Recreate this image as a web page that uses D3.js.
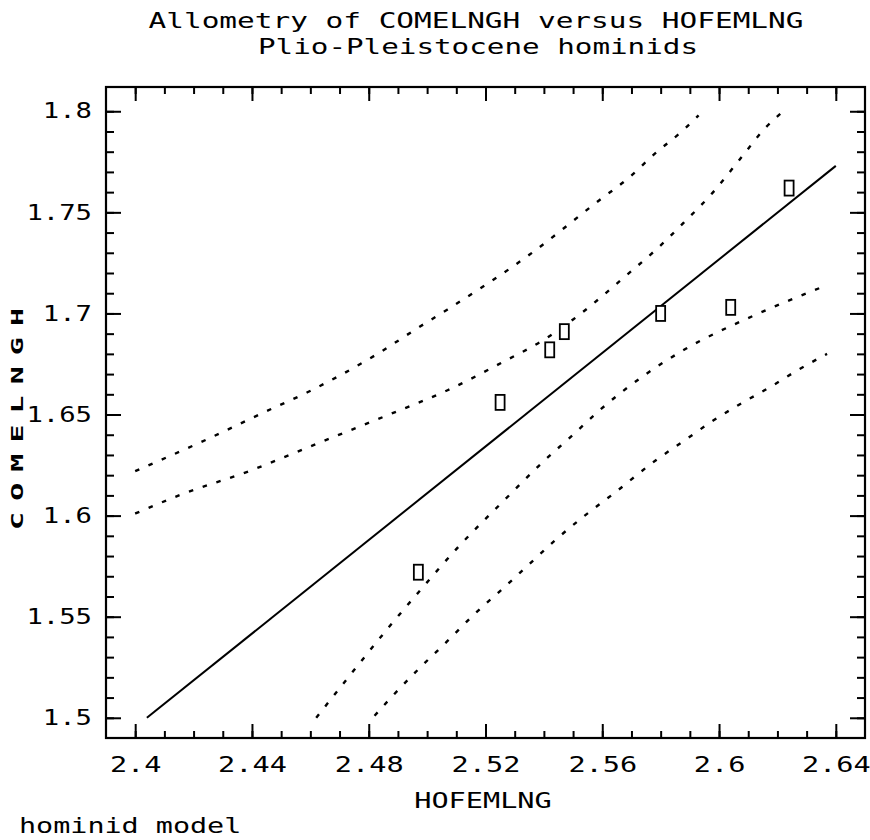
<!DOCTYPE html>
<html>
<head>
<meta charset="utf-8">
<script src="https://cdn.jsdelivr.net/npm/d3@7"></script>
<style>
  body { margin: 0; background: #fff; }
  svg { display: block; }
</style>
</head>
<body>
<svg width="870" height="840"></svg>
<script>
// specimens
const hofemlng = [2.497, 2.525, 2.542, 2.547, 2.580, 2.604, 2.624]
const comelngh = [1.572, 1.656, 1.682, 1.691, 1.700, 1.703, 1.762]

// fitted line, end points
const fitX = [2.404, 2.640]
const fitY = [1.500, 1.773]

// limits around the fit
const upperOuterX = [2.400, 2.425, 2.444, 2.459, 2.483, 2.497, 2.507, 2.535, 2.559, 2.569, 2.578, 2.588, 2.593]
const upperOuterY = [1.622, 1.638, 1.651, 1.661, 1.680, 1.693, 1.702, 1.729, 1.756, 1.767, 1.779, 1.791, 1.798]

const upperInnerX = [2.400, 2.415, 2.439, 2.463, 2.487, 2.507, 2.526, 2.540, 2.550, 2.570, 2.578, 2.588, 2.598, 2.607, 2.616, 2.622]
const upperInnerY = [1.601, 1.610, 1.622, 1.636, 1.650, 1.662, 1.676, 1.687, 1.697, 1.721, 1.731, 1.745, 1.760, 1.776, 1.792, 1.800]

const lowerInnerX = [2.462, 2.473, 2.487, 2.497, 2.511, 2.526, 2.540, 2.550, 2.559, 2.574, 2.588, 2.612, 2.637]
const lowerInnerY = [1.500, 1.520, 1.545, 1.562, 1.585, 1.607, 1.627, 1.640, 1.652, 1.669, 1.682, 1.699, 1.714]

const lowerOuterX = [2.482, 2.487, 2.497, 2.507, 2.516, 2.526, 2.535, 2.544, 2.554, 2.564, 2.578, 2.588, 2.598, 2.607, 2.618, 2.627, 2.637]
const lowerOuterY = [1.501, 1.509, 1.524, 1.538, 1.551, 1.564, 1.576, 1.588, 1.600, 1.611, 1.627, 1.637, 1.647, 1.655, 1.664, 1.672, 1.680]

// axis ticks
const xTicks = [2.4, 2.44, 2.48, 2.52, 2.56, 2.6, 2.64]
const yTicks = [1.5, 1.55, 1.6, 1.65, 1.7, 1.75, 1.8]
const xMinor = d3.range(0, 25).map(i => 2.4 + i / 100)
const yMinor = d3.range(0, 31).map(i => 1.5 + i / 100)

const font = 'DejaVu Sans Mono, Liberation Mono, monospace'
const charW = 17.2

const svg = d3.select('svg')

const x = d3.scaleLinear().domain([2.39, 2.65]).range([106, 865])
const y = d3.scaleLinear().domain([1.49, 1.812]).range([738, 87])

// stretch every label to the plotter's wide character cell
const wide = (sel, w = charW) => sel
    .attr('font-family', font)
    .attr('font-size', 21)
    .attr('fill', 'black')
    .attr('textLength', function () { return this.textContent.length * w })
    .attr('lengthAdjust', 'spacingAndGlyphs')

const clean = g => {
    g.select('.domain').remove()
    g.selectAll('.tick line').attr('stroke', 'black').attr('stroke-width', 2)
}

// minor ticks on all four sides
svg.append('g')
    .attr('transform', 'translate(0,738)')
    .call(d3.axisBottom(x).tickValues(xMinor).tickSize(-7).tickFormat(''))
    .call(clean)
svg.append('g')
    .attr('transform', 'translate(0,87)')
    .call(d3.axisTop(x).tickValues(xMinor).tickSize(-7).tickFormat(''))
    .call(clean)
svg.append('g')
    .attr('transform', 'translate(106,0)')
    .call(d3.axisLeft(y).tickValues(yMinor).tickSize(-8).tickFormat(''))
    .call(clean)
svg.append('g')
    .attr('transform', 'translate(865,0)')
    .call(d3.axisRight(y).tickValues(yMinor).tickSize(-8).tickFormat(''))
    .call(clean)

// major ticks with labels
const xAxis = svg.append('g')
    .attr('transform', 'translate(0,738)')
    .call(d3.axisBottom(x).tickValues(xTicks).tickSize(-14).tickPadding(19).tickFormat(d => String(d)))
    .call(clean)
xAxis.selectAll('text').call(wide)

const yAxis = svg.append('g')
    .attr('transform', 'translate(106,0)')
    .call(d3.axisLeft(y).tickValues(yTicks).tickSize(-15).tickPadding(14).tickFormat(d => String(d)))
    .call(clean)
yAxis.selectAll('text').call(wide, 16.4)

svg.append('g')
    .attr('transform', 'translate(0,87)')
    .call(d3.axisTop(x).tickValues(xTicks).tickSize(-14).tickFormat(''))
    .call(clean)
svg.append('g')
    .attr('transform', 'translate(865,0)')
    .call(d3.axisRight(y).tickValues(yTicks).tickSize(-15).tickFormat(''))
    .call(clean)

// plot frame
svg.append('rect')
    .attr('x', x.range()[0])
    .attr('y', y.range()[1])
    .attr('width', x.range()[1] - x.range()[0])
    .attr('height', y.range()[0] - y.range()[1])
    .attr('fill', 'none')
    .attr('stroke', 'black')
    .attr('stroke-width', 2.2)

const line = d3.line()
    .x(d => x(d[0]))
    .y(d => y(d[1]))

const limits = [
    [upperOuterX, upperOuterY],
    [upperInnerX, upperInnerY],
    [lowerInnerX, lowerInnerY],
    [lowerOuterX, lowerOuterY]
]

svg.append('g')
    .selectAll('path')
    .data(limits)
    .join('path')
        .attr('d', ([xs, ys]) => line.curve(d3.curveMonotoneX)(xs.map((v, i) => [v, ys[i]])))
        .attr('fill', 'none')
        .attr('stroke', 'black')
        .attr('stroke-width', 2.4)
        .attr('stroke-dasharray', '4.5 10')

svg.append('path')
    .attr('d', line.curve(d3.curveLinear)(fitX.map((v, i) => [v, fitY[i]])))
    .attr('fill', 'none')
    .attr('stroke', 'black')
    .attr('stroke-width', 2)

// specimen boxes
svg.append('g')
    .selectAll('rect')
    .data(hofemlng)
    .join('rect')
        .attr('x', d => x(d) - 4.5)
        .attr('y', (d, i) => y(comelngh[i]) - 7.5)
        .attr('width', 9)
        .attr('height', 15)
        .attr('fill', 'white')
        .attr('stroke', 'black')
        .attr('stroke-width', 1.8)

// titles
svg.append('text')
    .attr('x', 476)
    .attr('y', 28)
    .attr('text-anchor', 'middle')
    .text('Allometry of COMELNGH versus HOFEMLNG')
    .call(wide, 17.7)

svg.append('text')
    .attr('x', 478)
    .attr('y', 54)
    .attr('text-anchor', 'middle')
    .text('Plio-Pleistocene hominids')
    .call(wide, 17.6)

svg.append('text')
    .attr('x', 483)
    .attr('y', 808)
    .attr('text-anchor', 'middle')
    .text('HOFEMLNG')
    .call(wide)

svg.append('text')
    .attr('x', 19)
    .attr('y', 833)
    .text('hominid model')
    .call(wide, 17.1)

// rotated y title: short letters, stretched along the axis
svg.append('text')
    .attr('transform', 'translate(23,419) rotate(-90) scale(2,1)')
    .attr('text-anchor', 'middle')
    .attr('font-family', font)
    .attr('font-size', 15)
    .attr('font-weight', 'bold')
    .attr('fill', 'black')
    .attr('textLength', 222 / 2)
    .attr('lengthAdjust', 'spacing')
    .text('COMELNGH')
</script>
</body>
</html>
